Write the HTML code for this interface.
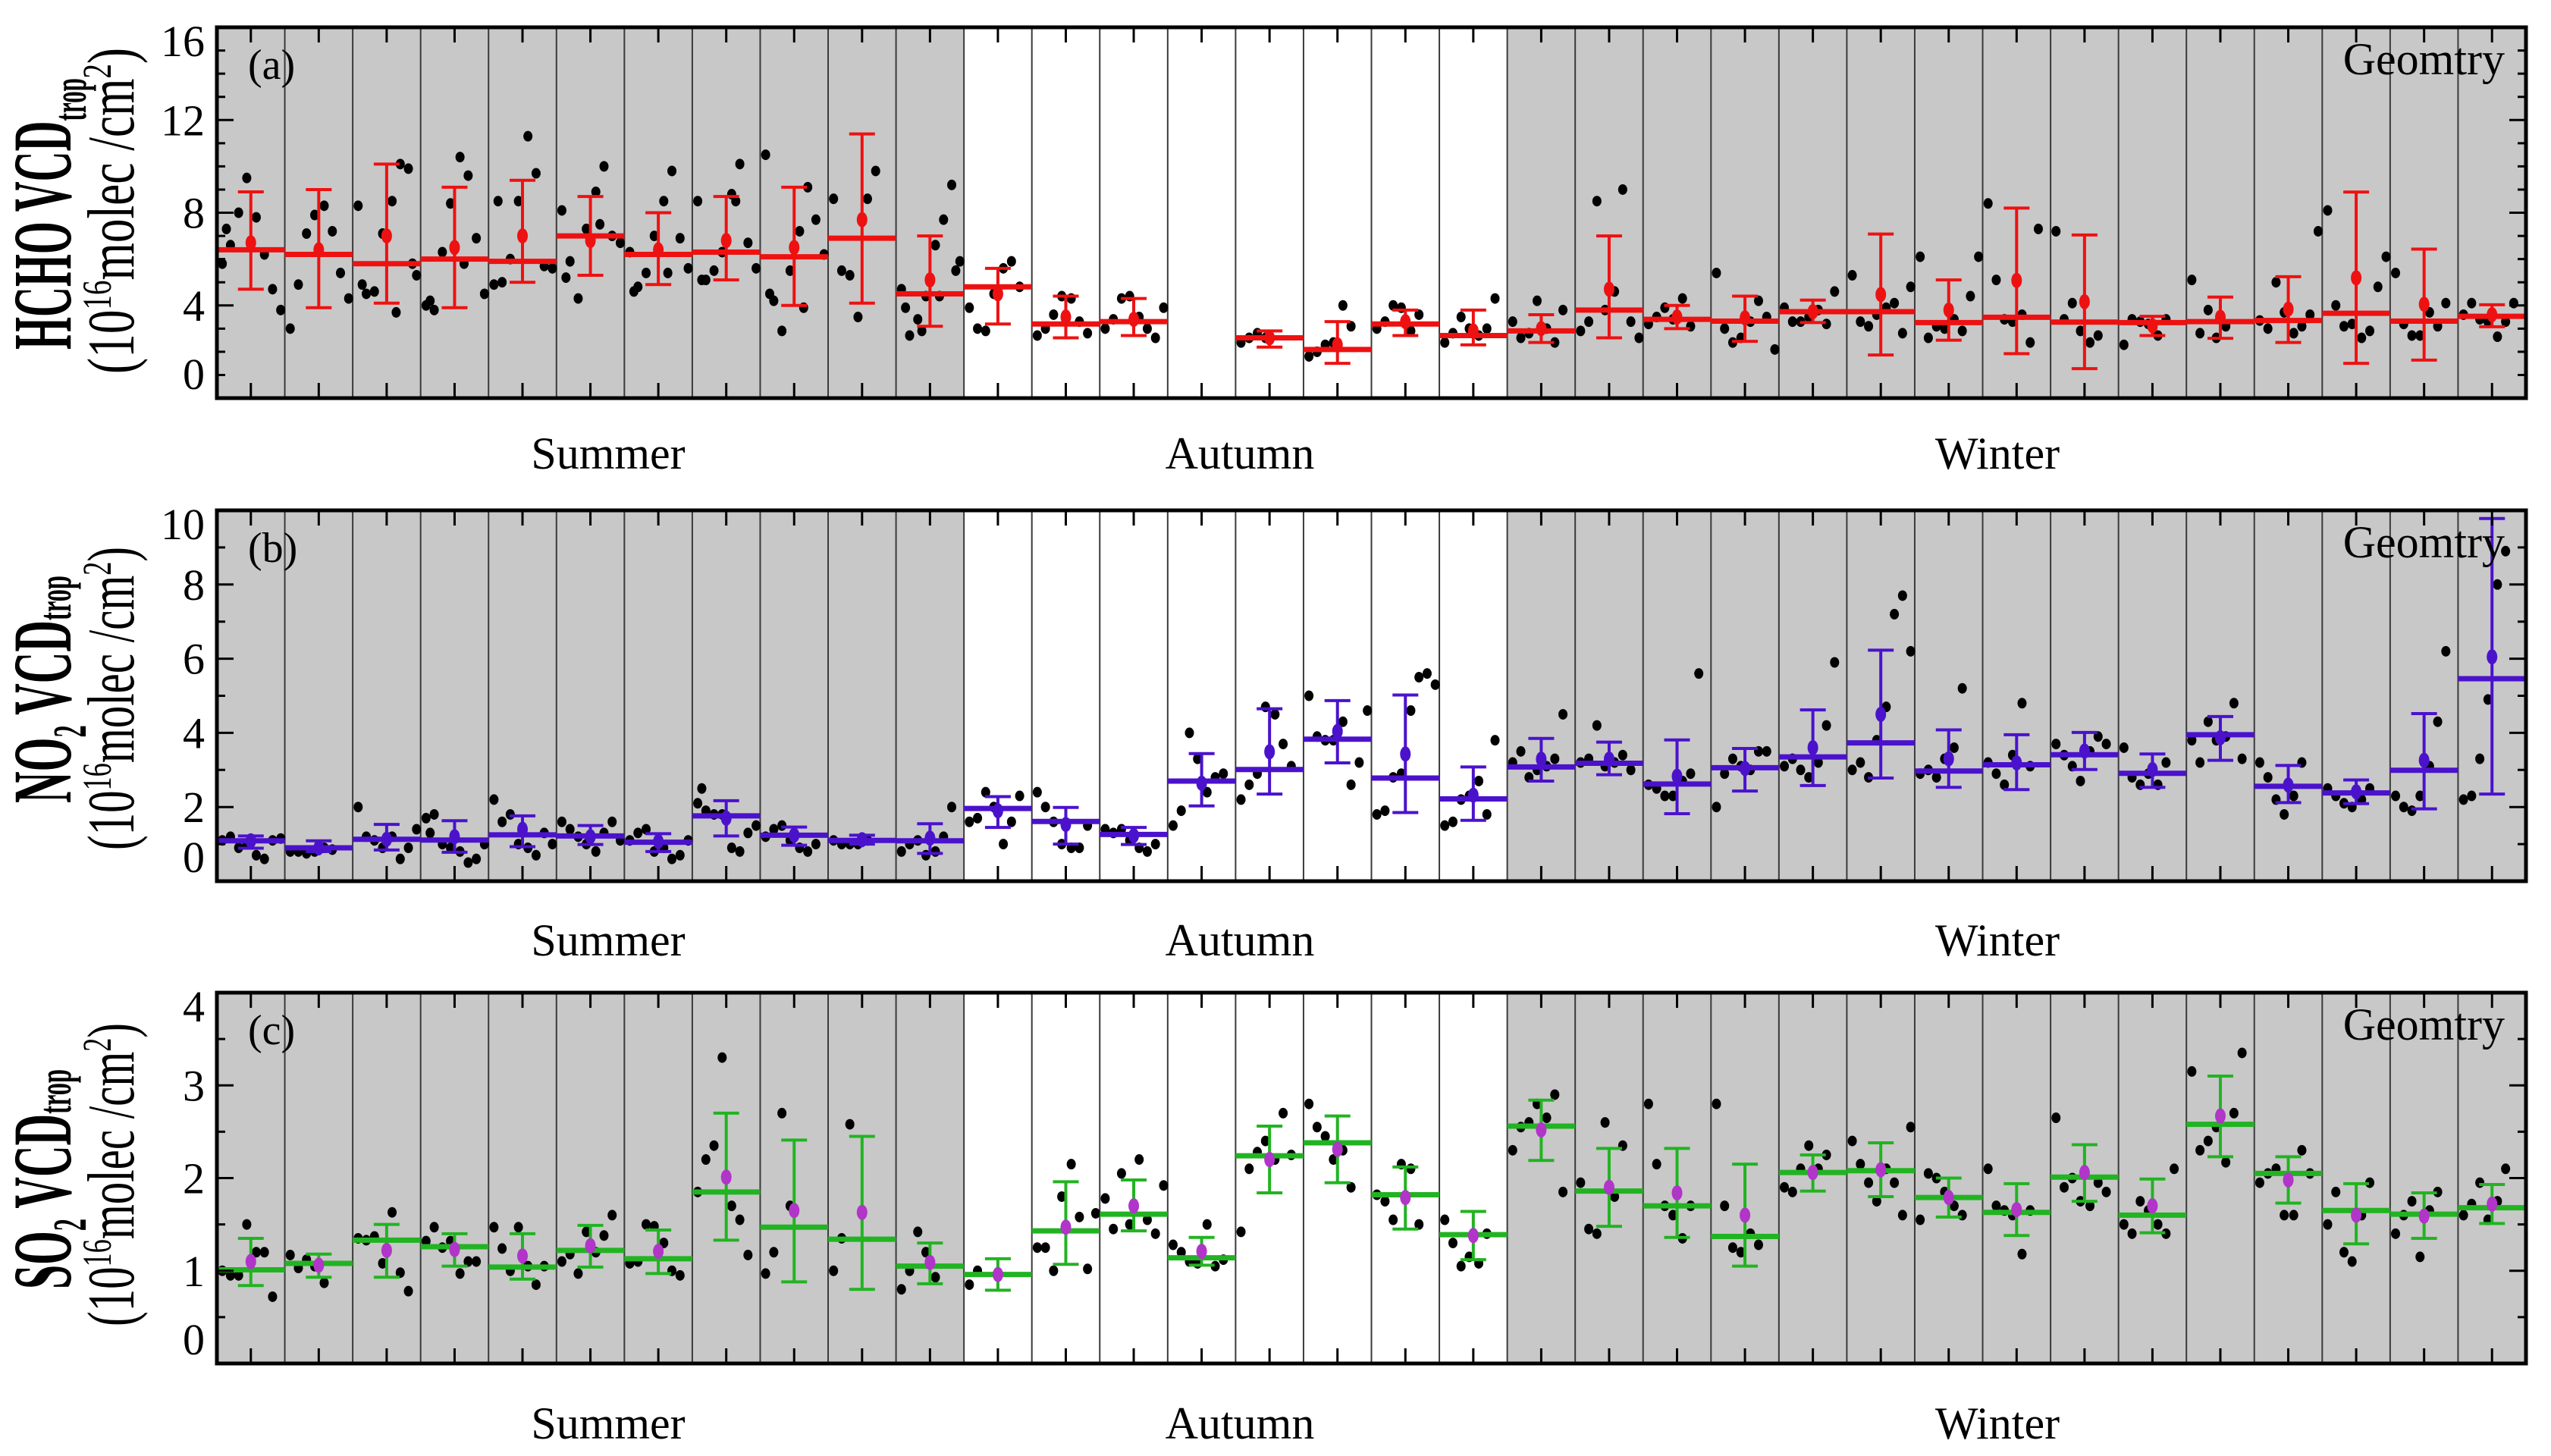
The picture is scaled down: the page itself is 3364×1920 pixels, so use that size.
<!DOCTYPE html>
<html><head><meta charset="utf-8"><style>html,body{margin:0;padding:0;background:#fff}svg{display:block}</style></head>
<body>
<svg id="fig" width="3364" height="1920" viewBox="0 0 3364 1920" xmlns="http://www.w3.org/2000/svg" font-family="'Liberation Serif', serif"></svg>
<script>
// ---------- DATA ----------
const seasons = ["Summer","Autumn","Winter"];
const seasonCounts = [11,8,15];
const hchoMean=[6.4,6.2,5.8,6.0,5.9,7.0,6.2,6.3,6.1,6.9,4.5,4.8,3.2,3.3,null,2.6,2.1,3.2,2.7,2.9,3.8,3.4,3.32,3.73,3.73,3.26,3.49,3.28,3.26,3.3,3.35,3.66,3.32,3.53];
const hchoDot=[6.7,6.4,7.0,6.5,7.0,6.8,6.4,6.8,6.5,7.7,5.1,4.5,3.5,3.4,null,2.6,2.3,3.3,2.9,3.0,4.7,3.5,3.46,3.73,4.47,3.8,5.08,4.16,3.12,3.49,3.84,5.19,4.05,3.6];
const hchoLo=[4.7,3.9,4.1,3.9,5.0,5.3,4.9,5.1,4.0,4.1,3.1,3.2,2.6,2.7,null,2.2,1.5,2.7,2.3,2.4,2.6,3.0,2.45,3.26,1.86,2.5,1.92,1.27,2.7,2.58,2.4,1.5,1.64,3.08];
const hchoHi=[8.9,9.0,10.1,9.1,9.4,8.7,8.0,8.7,9.1,11.4,7.0,5.6,4.4,4.3,null,2.9,3.3,3.8,3.8,3.6,7.0,4.0,4.4,4.23,7.08,5.1,8.2,7.04,3.53,4.36,5.24,8.89,6.43,4.03];
const hchoPts=[[5.8,6.6,8.0,9.5,7.8,6.2,4.7,3.8,7.3],[3.0,4.9,7.1,7.9,8.3,7.2,5.4,4.3],[8.3,4.5,4.6,7.1,8.5,10.1,9.9,5.3,4.9,3.7,5.8],[4.0,3.8,6.3,8.4,10.4,9.6,6.9,4.5,4.2,5.8],[4.9,5.0,6.0,8.5,11.3,9.7,5.7,5.6,8.5],[8.1,5.9,4.3,7.3,8.9,10.0,7.0,6.7,5.2,7.5],[6.3,4.8,5.4,7.0,8.5,9.8,6.9,5.6,4.6,5.4],[8.5,5.1,5.5,6.3,8.8,10.1,6.7,5.6,5.1,8.5],[10.5,4.2,2.9,5.5,7.2,9.1,7.7,6.2,4.5,3.9],[8.6,5.5,5.3,3.5,8.6,9.8],[4.7,2.7,3.4,4.4,6.6,7.7,9.2,5.9,3.9,4.4,5.5,2.9],[3.9,3.0,2.9,4.5,5.6,5.9,4.8],[2.7,3.0,3.6,4.4,4.3,3.3,2.8],[3.0,3.4,4.3,4.4,3.5,3.0,2.6,3.9],[],[2.4,2.6,2.8,2.6],[1.8,2.0,2.3,2.4,4.0,3.1],[3.0,3.3,4.0,3.9,2.9,3.6],[2.4,2.8,3.5,3.0,2.7,3.0,4.3],[3.3,2.6,2.8,4.2,3.0,2.4,3.8],[2.9,3.3,8.5,3.8,4.6,9.0,3.3,2.6],[3.2,3.5,3.9,3.4,4.3,3.1],[5.4,3.0,2.4,2.6,3.3,4.2,3.5,2.1],[3.9,3.3,3.3,3.5,3.8,3.2,4.6],[5.3,3.3,3.1,3.6,3.9,4.1,2.8,4.8],[6.1,2.6,3.1,3.0,3.4,2.9,4.4,6.1],[8.4,5.1,3.4,3.3,3.6,2.4,7.3],[7.2,3.4,4.1,2.9,2.4,2.7],[2.3,3.4,3.3,3.2,2.7,3.4],[5.1,2.8,3.8,2.6,3.1],[3.35,3.0,5.0,3.7,2.8,3.1,3.6,7.2],[8.1,4.0,3.1,3.2,2.6,2.9,4.8,6.1],[5.4,3.2,2.7,2.7,3.7,3.1,4.1],[3.6,4.1,3.4,3.3,2.65,3.3,4.1]];

const no2Mean=[1.09,0.9,1.13,1.11,1.25,1.22,1.05,1.76,1.24,1.1,1.09,1.96,1.61,1.26,2.7,3.01,3.83,2.78,2.22,3.08,3.18,2.62,3.06,3.35,3.73,2.97,3.14,3.41,2.91,3.95,2.56,2.38,2.99,5.46];
const no2Dot=[1.09,0.9,1.13,1.2,1.4,1.2,1.07,1.7,1.24,1.12,1.16,1.9,1.53,1.23,2.64,3.49,4.04,3.43,2.32,3.29,3.29,2.83,3.04,3.6,4.5,3.3,3.19,3.51,3.01,3.87,2.59,2.41,3.26,6.05];
const no2Lo=[0.89,0.8,0.84,0.78,0.93,0.99,0.8,1.22,0.97,1.0,0.75,1.45,1.0,0.99,2.03,2.35,3.19,1.85,1.64,2.7,2.87,1.82,2.43,2.58,2.78,2.53,2.47,3.01,2.53,3.26,2.12,2.09,1.95,2.35];
const no2Hi=[1.22,1.09,1.53,1.63,1.76,1.5,1.28,2.17,1.46,1.24,1.55,2.28,1.99,1.45,3.44,4.65,4.87,5.02,3.08,3.85,3.75,3.81,3.58,4.62,6.23,4.08,3.95,4.01,3.43,4.44,3.12,2.73,4.52,9.78];
const no2Pts=[[1.1,1.2,0.9,1.0,0.7,0.6,1.1,1.15],[0.8,0.8,0.75,0.8,0.9,0.85],[2.0,1.2,1.1,0.9,1.2,0.6,0.9,1.4],[1.7,1.8,1.0,0.9,0.8,0.5,0.6,1.0,1.3],[2.2,1.6,1.8,1.0,0.9,0.7,1.3,1.0],[1.6,1.4,1.2,1.0,0.8,1.3,1.6,1.1],[1.1,1.3,1.4,0.8,0.9,0.6,0.7,1.1],[2.1,1.9,1.8,1.8,0.9,0.8,1.3,1.5,2.5],[1.2,1.4,1.5,1.1,0.9,0.8,1.0],[1.1,1.0,1.0,1.0,1.1],[0.8,1.0,1.1,0.7,0.8,1.2,2.0],[1.6,1.7,2.4,2.0,1.0,1.6,2.3],[2.4,2.0,1.6,1.0,0.9,0.9,1.5],[1.4,1.3,1.4,1.1,0.9,0.8,1.0],[1.5,1.9,4.0,3.3,2.4,2.8,2.9],[2.2,2.6,2.9,4.7,4.5,3.7,3.1],[5.0,3.9,3.8,3.8,4.3,2.6,3.2,4.6],[1.8,1.9,2.8,2.9,4.6,5.5,5.6,5.3],[1.5,1.6,2.2,2.3,2.7,1.8,3.8],[3.2,3.5,2.8,3.0,3.1,3.3,4.5],[3.2,3.3,4.2,3.1,3.2,3.4,3.0],[2.6,2.5,2.3,2.3,2.7,2.9,5.6],[2.0,2.9,3.3,3.1,3.0,3.5,3.5],[3.1,3.3,3.0,2.8,3.2,4.2,5.9],[3.0,3.2,2.8,3.8,4.7,7.2,7.7,6.2],[2.9,3.0,2.8,3.3,3.6,5.2],[3.2,2.9,2.6,3.4,4.8,3.1],[3.7,3.4,3.1,2.7,3.5,3.9,3.7],[3.6,2.8,2.6,2.9,2.6,3.2],[3.8,3.2,4.3,3.8,3.9,4.8,3.3],[3.2,2.8,2.2,1.8,2.3,3.2],[2.5,2.3,2.1,2.0,2.2,2.5],[2.3,2.0,1.9,2.3,3.1,4.3,6.2],[2.2,2.3,3.3,4.9,8.0,8.9]];

const so2Mean=[1.01,1.08,1.33,1.26,1.04,1.22,1.13,1.85,1.47,1.34,1.05,0.96,1.43,1.61,1.14,2.24,2.38,1.82,1.39,2.56,1.86,1.7,1.37,2.06,2.08,1.79,1.63,2.01,1.6,2.58,2.05,1.65,1.61,1.68];
const so2Dot=[1.1,1.06,1.22,1.23,1.16,1.27,1.21,2.01,1.65,1.63,1.09,0.96,1.47,1.7,1.21,2.2,2.31,1.79,1.38,2.52,1.9,1.84,1.6,2.06,2.09,1.79,1.66,2.06,1.7,2.67,1.98,1.6,1.59,1.72];
const so2Lo=[0.84,0.93,0.93,1.05,0.91,1.04,0.97,1.33,0.88,0.8,0.86,0.79,1.07,1.43,1.06,1.84,1.95,1.45,1.12,2.19,1.48,1.36,1.05,1.86,1.8,1.58,1.38,1.75,1.41,2.23,1.73,1.29,1.35,1.51];
const so2Hi=[1.35,1.18,1.5,1.4,1.4,1.49,1.44,2.7,2.41,2.45,1.3,1.13,1.96,1.98,1.36,2.56,2.67,2.12,1.64,2.84,2.32,2.32,2.15,2.25,2.38,2.0,1.94,2.36,1.99,3.1,2.23,1.94,1.84,1.93];
const so2Pts=[[1.0,0.95,0.95,1.5,1.2,1.2,0.72],[1.17,1.03,1.12,1.05,0.87],[1.35,1.33,1.37,1.08,1.63,0.98,0.78],[1.32,1.47,1.25,1.32,0.97,1.1,1.1],[1.47,1.24,1.0,1.47,1.05,0.85,1.05],[1.1,1.18,0.97,1.42,1.2,1.38,1.6],[1.08,1.1,1.5,1.48,1.3,1.0,0.95],[1.85,2.2,2.35,3.3,1.7,1.55,1.17],[0.97,1.2,2.7,1.7],[1.0,1.35,2.58],[0.8,1.0,1.42,1.2,0.93],[0.85,1.0],[1.25,1.25,1.0,1.8,2.15,1.58,1.02,1.62],[1.78,1.45,2.05,1.5,2.2,1.55,1.4,1.92],[1.28,1.2,1.1,1.08,1.5,1.05,1.12],[1.42,2.1,2.28,2.4,2.2,2.7,2.25],[2.8,2.55,2.45,2.2,2.3,1.9],[1.82,1.75,1.55,2.15,2.1,1.5],[1.55,1.3,1.05,1.15,1.08,1.4],[2.3,2.55,2.6,2.8,2.65,2.9,1.85],[1.95,1.45,1.4,2.6,1.8,2.35],[2.8,2.15,1.7,1.6,1.35,1.7],[2.8,1.7,1.25,1.2,1.4,1.28],[1.9,1.85,2.1,2.35,2.1,2.25],[2.4,2.15,1.95,1.75,2.1,1.95,1.6,2.55],[1.55,2.05,2.0,1.85,1.7,1.6],[2.1,1.7,1.65,1.6,1.18,1.65],[2.65,1.9,2.0,1.75,1.7,1.95,1.85],[1.5,1.4,1.75,1.65,1.5,1.4,2.1],[3.15,2.3,2.4,2.55,2.17,2.7,3.35],[1.95,2.05,2.1,1.6,1.6,2.3,2.05],[1.5,1.85,1.2,1.1,1.6,1.95],[1.4,1.6,1.75,1.15,1.65,1.85],[1.6,1.72,1.95,1.55,1.75,2.1]];

const hchoTicks=[0,4,8,12,16];
const no2Ticks=[0,2,4,6,8,10];
const so2Ticks=[0,1,2,3,4];

// ---------- DRAWING ----------
const NS="http://www.w3.org/2000/svg";
const svg=document.getElementById('fig');
function mk(tag,attrs,parent){const e=document.createElementNS(NS,tag);for(const k in attrs)e.setAttribute(k,attrs[k]);(parent||svg).appendChild(e);return e;}
const X0=286,X1=3331,N=34,CW=(X1-X0)/N;
const xBand=i=>X0+i*CW;
const xMid=i=>X0+(i+0.5)*CW;
const jit=[-0.42,-0.3,-0.18,-0.06,0.08,0.2,0.32,0.44,-0.36,0.14,0.38,-0.12];

const panels=[
 {key:'a',top:36,bot:525,max:16,ticks:hchoTicks,minor:1,mean:hchoMean,dot:hchoDot,lo:hchoLo,hi:hchoHi,pts:hchoPts,col:'#ee1111',dotCol:'#ee1111',t1:['HCHO VCD','trop'],len1:358,len2:430,cy1:282,cy2:278,seasonY:618},
 {key:'b',top:673,bot:1162,max:10,ticks:no2Ticks,minor:1,mean:no2Mean,dot:no2Dot,lo:no2Lo,hi:no2Hi,pts:no2Pts,col:'#4b12cc',dotCol:'#4b12cc',t1:['NO','2',' VCD','trop'],len1:300,len2:400,cy1:909,cy2:921,seasonY:1260},
 {key:'c',top:1309,bot:1798,max:4,ticks:so2Ticks,minor:0.5,mean:so2Mean,dot:so2Dot,lo:so2Lo,hi:so2Hi,pts:so2Pts,col:'#22b322',dotCol:'#b035c8',t1:['SO','2',' VCD','trop'],len1:290,len2:400,cy1:1555,cy2:1549,seasonY:1897}
];
const seasonX=[802,1635,2634];

panels.forEach(p=>{
  const g=mk('g',{});
  
  
  const y=v=>p.bot-(v/p.max)*(p.bot-p.top);
  let idx=0;
  seasonCounts.forEach((c,s)=>{
    const r=mk('rect',{x:xBand(idx),y:p.top,width:c*CW,height:p.bot-p.top,fill:s===1?'#ffffff':'#c8c8c8'},g);
    
    
    idx+=c;
  });
  for(let i=1;i<N;i++){const l=mk('line',{x1:xBand(i),x2:xBand(i),y1:p.top,y2:p.bot,stroke:'#3a3a3a','stroke-width':2},g);
    
    }
  p.pts.forEach((arr,i)=>{arr.forEach((v,j)=>{
    const c=mk('ellipse',{cx:xMid(i)+jit[j%jit.length]*CW,cy:y(v),rx:6,ry:7,fill:'#000'},g);
    
    
  });});
  for(let i=0;i<N;i++){
    if(p.mean[i]==null)continue;
    const m=mk('line',{x1:xBand(i),x2:xBand(i+1),y1:y(p.mean[i]),y2:y(p.mean[i]),stroke:p.col,'stroke-width':7},g);
    
    
    const cx=xMid(i);
    const e=mk('path',{d:`M${cx},${y(p.lo[i])}V${y(p.hi[i])}M${cx-17},${y(p.lo[i])}H${cx+17}M${cx-17},${y(p.hi[i])}H${cx+17}`,stroke:p.col,'stroke-width':4,fill:'none'},g);
    
    
    const d=mk('ellipse',{cx:cx,cy:y(p.dot[i]),rx:7,ry:10,fill:p.dotCol},g);
    
    
  }
  for(let i=0;i<N;i++){
    const t=mk('path',{d:`M${xMid(i)},${p.top}v20M${xMid(i)},${p.bot}v-20`,stroke:'#000','stroke-width':3},g);
    
    
  }
  for(let v=0;v<=p.max+1e-9;v+=p.minor){
    const major=p.ticks.some(t=>Math.abs(t-v)<1e-9);
    const L=major?22:11;
    const t=mk('path',{d:`M${X0},${y(v)}h${L}M${X1},${y(v)}h${-L}`,stroke:'#000','stroke-width':3},g);
    
    
  }
  p.ticks.forEach((v,k)=>{
    let ty=y(v)+20;
    if(k===0)ty=y(v)-12;
    if(k===p.ticks.length-1)ty=y(v)+38;
    const t=mk('text',{x:270,y:ty,'text-anchor':'end','font-size':58},g);
    t.textContent=v;
    
    
  });
  const f=mk('rect',{x:X0,y:p.top,width:X1-X0,height:p.bot-p.top,fill:'none',stroke:'#000','stroke-width':5},g);
  
  
  const pl=mk('text',{x:327,y:p.top+68,'font-size':56},g);
  pl.textContent='('+p.key+')';
  
  
  const gl=mk('text',{x:3303,y:p.top+62,'font-size':60,'text-anchor':'end'},g);
  gl.textContent='Geomtry';
  
  
  seasons.forEach((s,k)=>{
    const t=mk('text',{x:seasonX[k],y:p.seasonY,'font-size':60,'text-anchor':'middle'},g);
    t.textContent=s;
    
    
  });
  const t1=mk('text',{x:0,y:0,'font-size':110,'font-weight':'bold','text-anchor':'middle',textLength:p.len1,lengthAdjust:'spacingAndGlyphs',transform:`translate(93,${p.cy1}) rotate(-90)`},g);
  
  
  p.t1.forEach(s=>{
    const ts=mk('tspan',{},t1);
    if(s==='2'){ts.setAttribute('font-size',62);ts.setAttribute('dy',20);}
    else if(s==='trop'){ts.setAttribute('font-size',62);ts.setAttribute('dy',p.key==='a'?20:0);}
    else if(s===' VCD'){ts.setAttribute('dy',-20);}
    ts.textContent=s;
  });
  const t2=mk('text',{x:0,y:0,'font-size':88,'text-anchor':'middle',textLength:p.len2,lengthAdjust:'spacingAndGlyphs',transform:`translate(176,${p.cy2}) rotate(-90)`},g);
  
  
  [['(10',0,88],['16',-30,54],['molec /cm',30,88],['2',-30,54],[')',30,88]].forEach(a=>{
    const ts=mk('tspan',{dy:a[1],'font-size':a[2]},t2);ts.textContent=a[0];
  });
});
</script>
</body></html>
